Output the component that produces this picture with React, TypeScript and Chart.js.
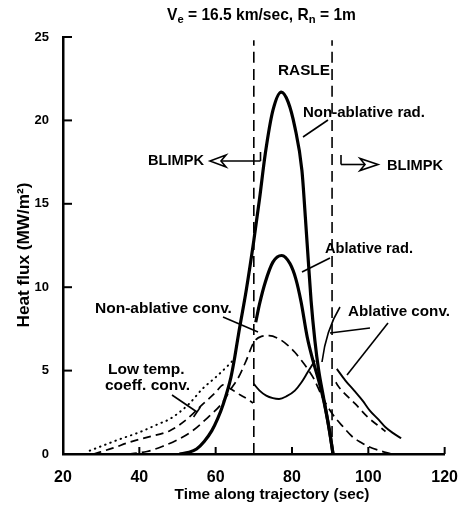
import React, { useEffect, useRef } from 'react';
import { Chart, registerables } from 'chart.js';

Chart.register(...registerables);

// ---- Data (x = time along trajectory [sec], y = heat flux [MW/m^2]) ----
const xTicks = [20, 40, 60, 80, 100, 120];
const yTicks = [0, 5, 10, 15, 20, 25];

const nonAblRadX = [50.5, 53, 55, 57, 59, 60.5, 62, 64, 65, 66, 68, 70, 71.5, 73, 75, 77.2, 79, 80.75, 82.6, 83.5, 84.3, 85, 86, 87, 88.25, 89.9, 90.75];
const nonAblRadY = [0, 0.1, 0.3, 0.75, 1.4, 2.1, 3.0, 4.6, 5.8, 7.2, 9.8, 12.8, 15.3, 18.0, 20.6, 21.7, 21.1, 19.6, 17.0, 14.2, 11.5, 9.2, 6.8, 5.0, 3.4, 1.3, 0];

const ablRadX = [70.5, 71.5, 73, 75, 77.3, 79.5, 81, 82.4, 84, 85.5, 87, 88.5, 89.8, 90.75];
const ablRadY = [7.9, 9.0, 10.3, 11.5, 11.9, 11.4, 10.5, 9.1, 7.0, 5.6, 4.4, 3.0, 1.4, 0];

const nonAblConvX = [37, 42, 46, 50, 54, 58, 61.5, 64, 66, 68, 70, 72, 74, 76.6, 79, 80.75, 82.5, 84.1, 85.75, 88, 90.6, 93.5, 95.75, 98, 100, 103, 106];
const nonAblConvY = [0, 0.15, 0.45, 0.85, 1.4, 2.2, 3.0, 3.9, 4.6, 5.6, 6.7, 7.05, 7.1, 6.9, 6.5, 6.1, 5.6, 5.1, 4.5, 3.4, 2.4, 1.6, 1.05, 0.7, 0.45, 0.2, 0];

const lowTempLeftX = [28, 33, 37.3, 42, 48, 52, 56.7, 60, 62, 64, 66, 68.3, 69.8];
const lowTempLeftY = [0, 0.35, 0.7, 1.0, 1.4, 2.0, 3.0, 3.7, 4.15, 3.9, 3.6, 3.3, 3.05];
const lowTempRightX = [91.5, 92, 96.6, 99.9, 103.7, 104.5];
const lowTempRightY = [4.3, 4.1, 3.0, 2.2, 1.5, 1.35];

const dottedX = [27, 31, 35, 40, 45, 48, 53, 56.5, 60, 63, 64.5];
const dottedY = [0.2, 0.55, 0.9, 1.3, 1.8, 2.1, 3.0, 3.9, 4.6, 5.25, 5.6];

const ablConvMidX = [70, 71.5, 73.25, 75, 76.6, 78.5, 80.75, 82.5, 84.1, 86];
const ablConvMidY = [4.2, 3.8, 3.5, 3.35, 3.3, 3.45, 3.8, 4.3, 4.9, 5.6];
const ablConvRightX = [91.75, 94, 96.3, 98.5, 100.4, 102.5, 104.5, 106.5, 108.6];
const ablConvRightY = [5.1, 4.4, 3.8, 3.2, 2.6, 2.1, 1.6, 1.25, 0.94];

const raslePositions = [70, 90.5];
const rasleTop = 24.8;

const pts = (xs: number[], ys: number[]) => xs.map((x, i) => ({ x, y: ys[i] }));
const joinGap = (a: { x: number; y: number | null }[], b: { x: number; y: number | null }[]) => {
  const gx = (a[a.length - 1].x + b[0].x) / 2;
  return [...a, { x: gx, y: null }, ...b];
};

const FAMILY = '"Liberation Sans", Arial, Helvetica, sans-serif';

function fitFont(ctx: CanvasRenderingContext2D, text: string, w: number) {
  ctx.font = `bold 20px ${FAMILY}`;
  const m = ctx.measureText(text).width;
  const size = (20 * w) / m;
  ctx.font = `bold ${size.toFixed(2)}px ${FAMILY}`;
  return size;
}

function drawFit(ctx: CanvasRenderingContext2D, text: string, left: number, cy: number, w: number) {
  fitFont(ctx, text, w);
  ctx.textAlign = 'left';
  ctx.textBaseline = 'middle';
  ctx.fillText(text, left, cy);
}

function line(ctx: CanvasRenderingContext2D, x1: number, y1: number, x2: number, y2: number) {
  ctx.beginPath();
  ctx.moveTo(x1, y1);
  ctx.lineTo(x2, y2);
  ctx.stroke();
}

const annotationPlugin = {
  id: 'annotations',
  afterDraw(chart: any) {
    const ctx: CanvasRenderingContext2D = chart.ctx;
    const xs = chart.scales.x;
    const ys = chart.scales.y;
    ctx.save();
    ctx.fillStyle = '#000';
    ctx.strokeStyle = '#000';
    ctx.setLineDash([]);

    // inward tick marks
    ctx.lineWidth = 2;
    yTicks.forEach((v) => {
      if (v === 0) return;
      const py = ys.getPixelForValue(v);
      line(ctx, xs.left, py, xs.left + 9, py);
    });
    xTicks.forEach((v) => {
      if (v === 20) return;
      const px = xs.getPixelForValue(v);
      line(ctx, px, ys.bottom, px, ys.bottom - 7);
    });

    // Title with subscripts
    const parts = [
      { t: 'V', sub: false },
      { t: 'e', sub: true },
      { t: ' = 16.5 km/sec, R', sub: false },
      { t: 'n', sub: true },
      { t: ' = 1m', sub: false },
    ];
    const base = 20;
    let total = 0;
    parts.forEach((p) => {
      ctx.font = `bold ${p.sub ? base * 0.72 : base}px ${FAMILY}`;
      total += ctx.measureText(p.t).width;
    });
    const scale = 189 / total;
    let tx = 167;
    ctx.textAlign = 'left';
    ctx.textBaseline = 'alphabetic';
    parts.forEach((p) => {
      const size = (p.sub ? base * 0.72 : base) * scale;
      ctx.font = `bold ${size.toFixed(2)}px ${FAMILY}`;
      ctx.fillText(p.t, tx, p.sub ? 23 : 20);
      tx += ctx.measureText(p.t).width;
    });

    // axis titles
    fitFont(ctx, 'Time along trajectory (sec)', 195);
    ctx.textAlign = 'center';
    ctx.textBaseline = 'middle';
    ctx.fillText('Time along trajectory (sec)', 272, 495);

    ctx.save();
    ctx.translate(24, 255);
    ctx.rotate(-Math.PI / 2);
    fitFont(ctx, 'Heat flux (MW/m²)', 145);
    ctx.textAlign = 'center';
    ctx.textBaseline = 'middle';
    ctx.fillText('Heat flux (MW/m²)', 0, 0);
    ctx.restore();

    // labels
    drawFit(ctx, 'RASLE', 278, 71, 52);
    drawFit(ctx, 'Non-ablative rad.', 303, 113, 122);
    drawFit(ctx, 'Ablative rad.', 325, 249, 88);
    drawFit(ctx, 'Non-ablative conv.', 95, 309, 137);
    fitFont(ctx, 'coeff. conv.', 85);
    ctx.textAlign = 'left';
    ctx.textBaseline = 'middle';
    ctx.fillText('coeff. conv.', 105, 386);
    ctx.fillText('Low temp.', 108, 370);
    drawFit(ctx, 'Ablative conv.', 348, 312, 102);
    drawFit(ctx, 'BLIMPK', 387, 166, 56);
    drawFit(ctx, 'BLIMPK', 148, 161, 56);

    // leaders
    ctx.lineWidth = 1.6;
    line(ctx, 328, 120, 303, 137);
    line(ctx, 330, 258, 302, 272);
    line(ctx, 223, 317, 258, 332);
    line(ctx, 172, 395, 197, 412);
    line(ctx, 193.6, 417, 200.4, 407);
    line(ctx, 388, 323, 347, 375);
    line(ctx, 370, 328, 330, 333);
    ctx.beginPath();
    ctx.moveTo(340, 307);
    ctx.quadraticCurveTo(326, 330, 322, 362);
    ctx.stroke();

    // BLIMPK arrows
    ctx.lineWidth = 1.6;
    line(ctx, 260.5, 152, 260.5, 161);
    line(ctx, 221, 161, 260.5, 161);
    ctx.beginPath();
    ctx.moveTo(210, 161);
    ctx.lineTo(226, 155);
    ctx.lineTo(221, 161);
    ctx.lineTo(226, 167);
    ctx.closePath();
    ctx.stroke();

    line(ctx, 341, 155, 341, 164.5);
    line(ctx, 341, 164.5, 365, 164.5);
    ctx.beginPath();
    ctx.moveTo(378, 164.5);
    ctx.lineTo(360, 158.5);
    ctx.lineTo(365, 164.5);
    ctx.lineTo(360, 170.5);
    ctx.closePath();
    ctx.stroke();

    ctx.restore();
  },
};

export default function App() {
  const ref = useRef<HTMLCanvasElement | null>(null);

  useEffect(() => {
    document.body.style.margin = '0';
    const canvas = ref.current;
    if (!canvas) return;

    const common = { pointRadius: 0, borderColor: '#000', fill: false, cubicInterpolationMode: 'monotone' as const, spanGaps: false };

    const chart = new Chart(canvas, {
      type: 'line',
      data: {
        datasets: [
          ...raslePositions.map((x) => ({
            ...common,
            label: 'RASLE boundary',
            data: [{ x, y: 0 }, { x, y: rasleTop }],
            borderWidth: 1.6,
            borderDash: [11, 6],
          })),
          {
            ...common,
            label: 'Low temp. coeff. conv.',
            data: joinGap(pts(lowTempLeftX, lowTempLeftY), pts(lowTempRightX, lowTempRightY)),
            borderWidth: 1.7,
            borderDash: [8, 5],
          },
          {
            ...common,
            label: 'Dotted',
            data: pts(dottedX, dottedY),
            borderWidth: 2,
            borderCapStyle: 'round',
            borderDash: [0.5, 5],
          },
          {
            ...common,
            label: 'Non-ablative conv.',
            data: pts(nonAblConvX, nonAblConvY),
            borderWidth: 1.7,
            borderDash: [9, 5],
          },
          {
            ...common,
            label: 'Ablative conv.',
            data: joinGap(pts(ablConvMidX, ablConvMidY), pts(ablConvRightX, ablConvRightY)),
            borderWidth: 1.9,
          },
          {
            ...common,
            label: 'Ablative rad.',
            data: pts(ablRadX, ablRadY),
            borderWidth: 3.2,
          },
          {
            ...common,
            label: 'Non-ablative rad.',
            data: pts(nonAblRadX, nonAblRadY),
            borderWidth: 3.2,
          },
        ],
      },
      options: {
        responsive: false,
        animation: false,
        devicePixelRatio: 1,
        layout: { padding: { top: 37, right: 17, left: 0, bottom: 0 } },
        plugins: { legend: { display: false }, tooltip: { enabled: false }, title: { display: false } },
        elements: { point: { radius: 0 } },
        scales: {
          x: {
            type: 'linear',
            min: 20,
            max: 120,
            afterFit: (s: any) => { s.height = 60; },
            afterBuildTicks: (s: any) => { s.ticks = xTicks.map((v) => ({ value: v })); },
            grid: { display: false, drawTicks: false },
            border: { display: true, color: '#000', width: 2.5 },
            ticks: {
              color: '#000',
              padding: 14,
              maxRotation: 0,
              autoSkip: false,
              font: { family: FAMILY, size: 16, weight: 'bold' },
            },
          },
          y: {
            type: 'linear',
            min: 0,
            max: 25,
            afterFit: (s: any) => { s.width = 63; },
            afterBuildTicks: (s: any) => { s.ticks = yTicks.map((v) => ({ value: v })); },
            grid: { display: false, drawTicks: false },
            border: { display: true, color: '#000', width: 2.5 },
            ticks: {
              color: '#000',
              padding: 14,
              autoSkip: false,
              font: { family: FAMILY, size: 13, weight: 'bold' },
            },
          },
        },
      },
      plugins: [annotationPlugin],
    } as any);

    return () => chart.destroy();
  }, []);

  return (
    <div style={{ width: 472, height: 514, background: '#fff' }}>
      <canvas ref={ref} width={472} height={514} style={{ display: 'block' }} />
    </div>
  );
}
